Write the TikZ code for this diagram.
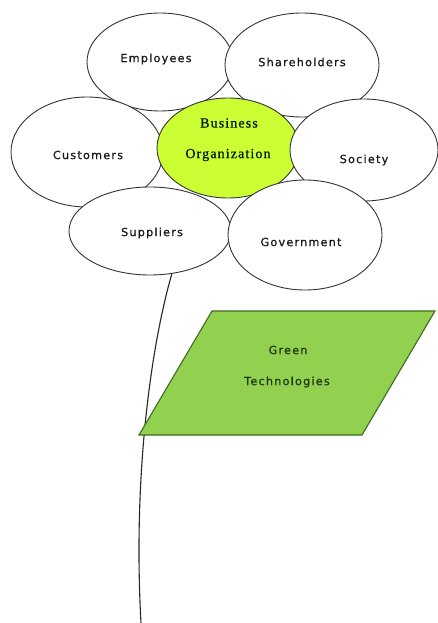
\documentclass[tikz,border=0pt]{standalone}
\usepackage{fontspec}
\setmainfont{Liberation Serif}
\newfontfamily\labfont[LetterSpace=11,FakeBold=0.8]{DejaVu Sans}
\newfontfamily\orgfont[LetterSpace=8,FakeBold=0.5]{Liberation Serif}
\usetikzlibrary{shapes.geometric}
\definecolor{lime}{HTML}{CCFF33}
\definecolor{leaf}{HTML}{92D050}
\definecolor{leafline}{HTML}{3F6B1F}
\definecolor{txt}{HTML}{1A1A1A}
\definecolor{greentxt}{HTML}{1E3A0C}
\tikzset{
  petal/.style={ellipse, draw=black!80, line width=0.9pt, fill=white, inner sep=0pt},
  core/.style={ellipse, draw=black!80, line width=0.9pt, fill=lime, inner sep=0pt},
  lab/.style={font=\labfont\fontsize{11.2}{13}\selectfont, text=txt, inner sep=0pt},
  orglab/.style={font=\orgfont\fontsize{14}{16}\selectfont, text=black!90!green, inner sep=0pt},
  leaflab/.style={font=\labfont\fontsize{11.2}{13}\selectfont, text=greentxt, inner sep=0pt},
  stemline/.style={draw=black!85, line width=1.1pt},
  leafshape/.style={fill=leaf, draw=leafline, line width=1.1pt, line join=miter}
}
\begin{document}
\begin{tikzpicture}[x=1pt,y=-1pt]
\useasboundingbox[fill=white] (0,0) rectangle (438,623);
% petals and core
\node[petal, minimum width=146pt, minimum height=98pt] (emp) at (160,62) {};
\node[petal, minimum width=154pt, minimum height=104pt] (sha) at (302,65) {};
\node[petal, minimum width=152pt, minimum height=110pt] (cus) at (87,152) {};
\node[core, minimum width=142pt, minimum height=100pt] (org) at (228,148) {};
\node[petal, minimum width=148pt, minimum height=102pt] (soc) at (364,150) {};
\node[petal, minimum width=162pt, minimum height=88pt] (sup) at (150,231) {};
\node[petal, minimum width=154pt, minimum height=110pt] (gov) at (305,235) {};
% stem
\coordinate (stemend) at (141,623);
\draw[stemline] (sup.-63) .. controls (150,350) and (133,480) .. (stemend);
% leaf
\coordinate (l1) at (212,311);
\coordinate (l2) at (435,311);
\coordinate (l3) at (362,435);
\coordinate (l4) at (139,435);
\path[leafshape] (l1) -- (l2) -- (l3) -- (l4) -- cycle;
\node[leaflab] (green) at (288,350) {Green};
\node[leaflab] (tech) at (287,382) {Technologies};
% labels
\node[lab] (tEmp) at (156,59) {Employees};
\node[lab] (tSha) at (302,62) {Shareholders};
\node[lab] (tCus) at (88,155) {Customers};
\node[lab] (tSoc) at (364,160) {Society};
\node[lab] (tSup) at (152,233) {Suppliers};
\node[lab] (tGov) at (301,242) {Government};
\node[orglab] (tBus) at (229,123) {Business};
\node[orglab] (tOrg) at (228,155) {Organization};
\end{tikzpicture}
\end{document}
